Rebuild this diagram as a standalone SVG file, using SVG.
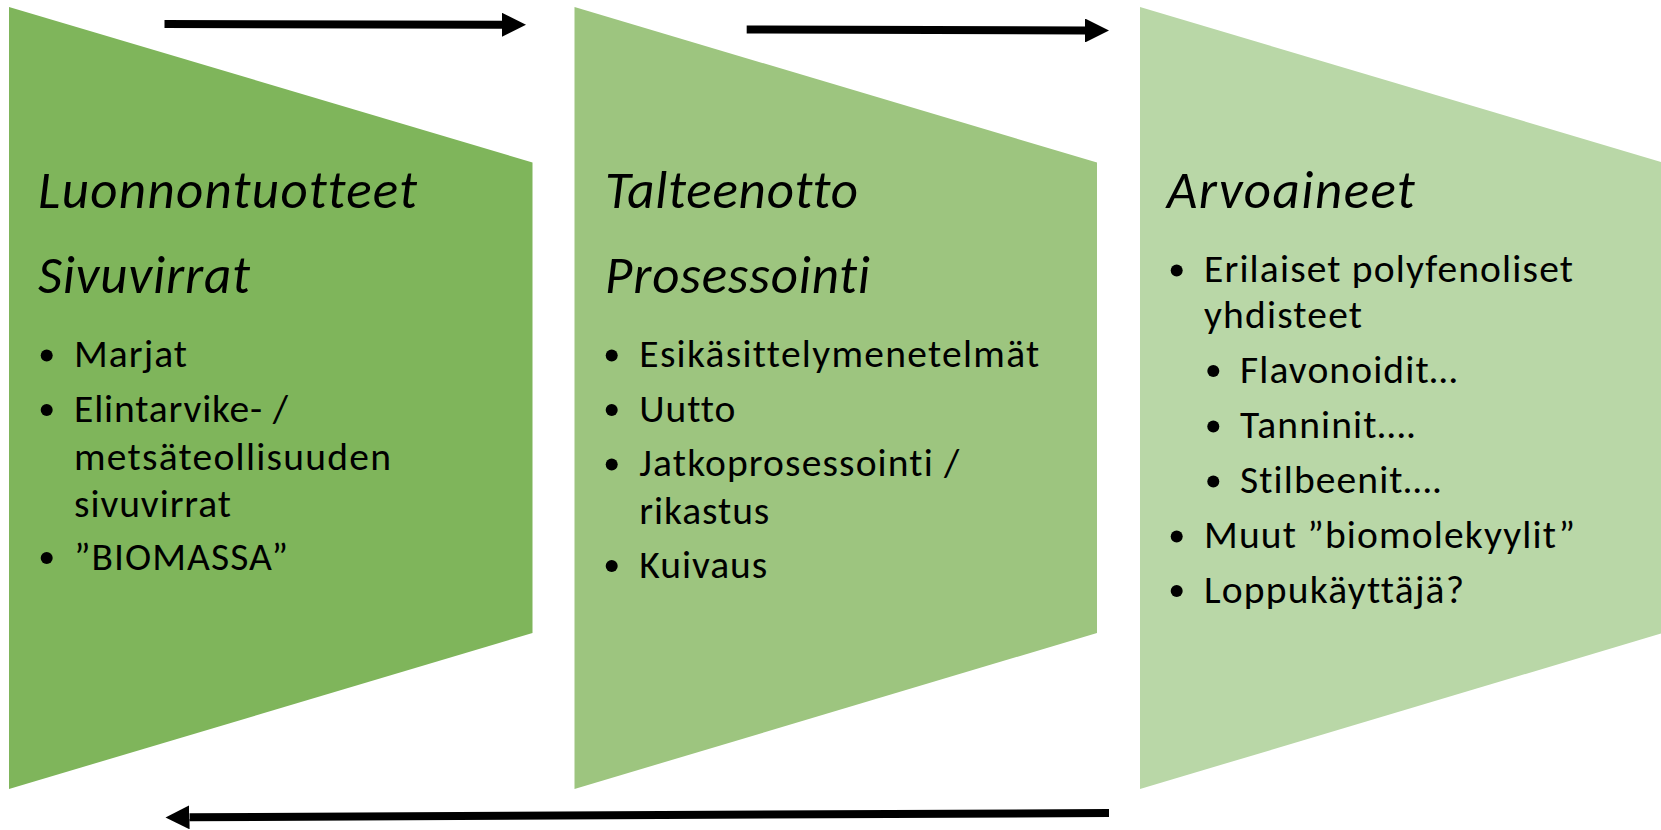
<svg xmlns="http://www.w3.org/2000/svg" width="1661" height="830" viewBox="0 0 1661 830">
<defs>
<style>
.h{font-family:Carlito,Lato,"Liberation Sans",sans-serif;font-style:italic;font-size:53px;fill:#000;font-variant-ligatures:none}
.t{font-family:Carlito,Lato,"Liberation Sans",sans-serif;font-size:39.5px;fill:#000;font-variant-ligatures:none}
.b{fill:#000}
.c{stroke:#000;stroke-width:8;fill:none}
</style>
<marker id="ah" viewBox="0 0 24 24" refX="0" refY="12" markerWidth="24" markerHeight="24" markerUnits="userSpaceOnUse" orient="auto">
<path d="M0,0 L24,12 L0,24 z" fill="#000"/>
</marker>
</defs>
<rect width="1661" height="830" fill="#fff"/>
<g id="node1">
<polygon points="9,7 532.5,162.5 532.5,633 9,789" fill="#7fb55b"/>
<text class="h" x="38" y="208.3" textLength="379">Luonnontuotteet</text>
<text class="h" x="38" y="293.3" textLength="212">Sivuvirrat</text>
<circle class="b" cx="46.7" cy="355.5" r="6"/>
<text class="t" x="74" y="367.3" textLength="113">Marjat</text>
<circle class="b" cx="46.7" cy="410" r="6"/>
<text class="t" x="74" y="421.7" textLength="214">Elintarvike- /</text>
<text class="t" x="74" y="469.5" textLength="317">metsäteollisuuden</text>
<text class="t" x="74" y="516.5" textLength="157">sivuvirrat</text>
<circle class="b" cx="46.7" cy="558" r="6"/>
<text class="t" x="74" y="569.5" textLength="214">”BIOMASSA”</text>
</g>
<g id="node2">
<polygon points="574.5,7 1097,162.5 1097,633 574.5,789" fill="#9dc57f"/>
<text class="h" x="605" y="208.3" textLength="253">Talteenotto</text>
<text class="h" x="605" y="293.3" textLength="265">Prosessointi</text>
<circle class="b" cx="611.7" cy="355.5" r="6"/>
<text class="t" x="639.3" y="367.3" textLength="400">Esikäsittelymenetelmät</text>
<circle class="b" cx="611.7" cy="410" r="6"/>
<text class="t" x="639.3" y="421.7" textLength="96">Uutto</text>
<circle class="b" cx="611.7" cy="464.5" r="6"/>
<text class="t" x="639.3" y="476.2" textLength="320">Jatkoprosessointi /</text>
<text class="t" x="639.3" y="523.5" textLength="130">rikastus</text>
<circle class="b" cx="611.7" cy="566" r="6"/>
<text class="t" x="639.3" y="577.5" textLength="128">Kuivaus</text>
</g>
<g id="node3">
<polygon points="1140,7 1663,162.5 1663,633 1140,789" fill="#b9d7a7"/>
<text class="h" x="1166.7" y="208.3" textLength="248">Arvoaineet</text>
<circle class="b" cx="1176.7" cy="270.5" r="6"/>
<text class="t" x="1204" y="281.7" textLength="369">Erilaiset polyfenoliset</text>
<text class="t" x="1204" y="328.3" textLength="158">yhdisteet</text>
<circle class="b" cx="1213.3" cy="371" r="6"/>
<text class="t" x="1240" y="382.7" textLength="217">Flavonoidit…</text>
<circle class="b" cx="1213.3" cy="426.5" r="6"/>
<text class="t" x="1240" y="438.3" textLength="176">Tanninit….</text>
<circle class="b" cx="1213.3" cy="481.5" r="6"/>
<text class="t" x="1240" y="493.3" textLength="202">Stilbeenit….</text>
<circle class="b" cx="1176.7" cy="536.5" r="6"/>
<text class="t" x="1204" y="548.3" textLength="371">Muut ”biomolekyylit”</text>
<circle class="b" cx="1176.7" cy="591" r="6"/>
<text class="t" x="1204" y="602.7" textLength="260">Loppukäyttäjä?</text>
</g>
<g id="connectors">
<path class="c" d="M164.5,24 L502,24.8" marker-end="url(#ah)"/>
<path class="c" d="M746.7,29.5 L1085,30.5" marker-end="url(#ah)"/>
<path class="c" d="M1109,813 L189.5,817.3" marker-end="url(#ah)"/>
</g>
</svg>
